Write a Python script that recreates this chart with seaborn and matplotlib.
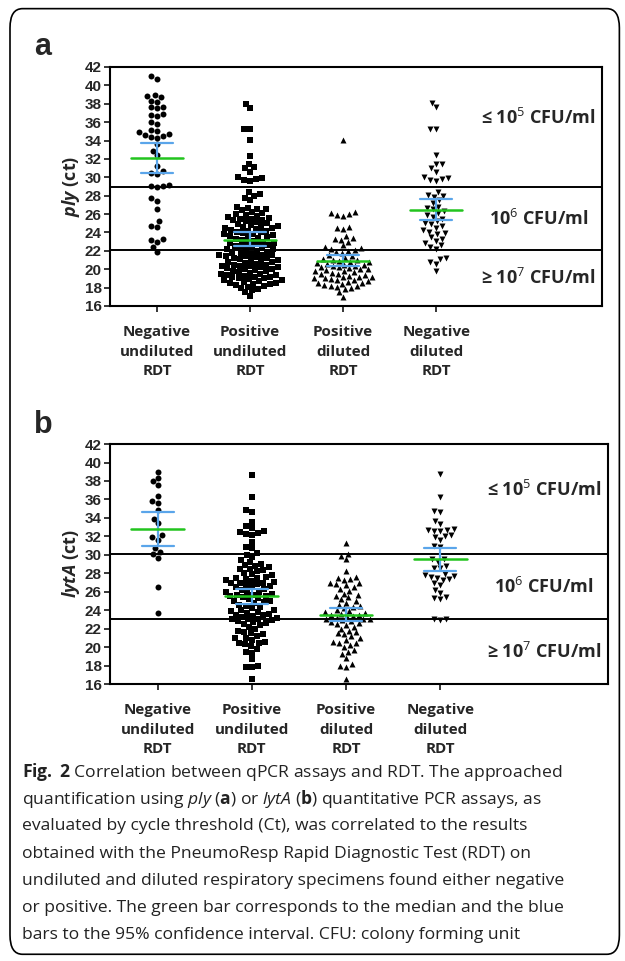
import numpy as np
import matplotlib.pyplot as plt
import pandas as pd
import seaborn as sns
from matplotlib.patches import FancyBboxPatch

cats = ['Negative\nundiluted\nRDT', 'Positive\nundiluted\nRDT', 'Positive\ndiluted\nRDT', 'Negative\ndiluted\nRDT']
markers = ['o', 's', '^', 'v']

# panel a (ply)
a_neg_undil = [41.0, 40.7, 39.0, 38.7, 38.8, 38.2, 38.3, 37.7, 37.5, 37.6, 36.9, 36.7, 36.8, 36.0, 35.8,
               35.1, 35.0, 34.9, 34.6, 34.5, 34.4, 34.3, 34.7, 33.6, 32.9, 32.4, 31.2, 30.7, 30.5, 30.4,
               29.2, 29.1, 29.0, 28.9, 27.7, 27.4, 26.6, 25.2, 24.7, 24.6, 23.3, 23.2, 23.0, 22.4, 21.9]
a_pos_undil = [38.0, 37.5, 35.3, 35.2, 34.1, 32.3, 31.5, 31.1, 31.0, 30.6, 30.0, 29.9, 29.8, 29.7, 29.6,
               28.4, 28.2, 28.0, 27.8, 27.5, 26.8, 26.7, 26.6, 26.5, 26.4, 26.2, 26.1, 26.0, 25.9, 25.8,
               25.7, 25.6, 25.5, 25.4, 25.3, 25.2, 25.1, 25.0, 24.9, 24.8, 24.7, 24.7, 24.6, 24.5, 24.4,
               24.3, 24.2, 24.1, 24.0, 23.9, 23.8, 23.7, 23.6, 23.5, 23.4, 23.3, 23.2, 23.1, 23.0, 22.9,
               22.8, 22.7, 22.6, 22.5, 22.4, 22.3, 22.2, 22.1, 22.0, 21.9, 21.8, 21.7, 21.6, 21.5, 21.4,
               21.3, 21.2, 21.1, 21.0, 20.9, 20.8, 20.7, 20.6, 20.5, 20.4, 20.3, 20.2, 20.1, 20.0, 19.9,
               19.8, 19.7, 19.6, 19.5, 19.4, 19.3, 19.2, 19.1, 19.0, 18.9, 18.8, 18.7, 18.6, 18.5, 18.4,
               18.3, 18.2, 18.1, 18.0, 17.9, 17.7, 17.5, 17.1, 21.5, 21.0, 20.5, 20.0, 19.5, 19.0, 18.5,
               22.5, 23.5, 24.5, 25.5, 21.2, 20.2, 19.2, 18.8, 19.8, 20.8, 21.8, 22.8, 23.8, 24.2, 22.2,
               21.4, 20.4, 19.4, 18.4]
a_pos_dil = [34.1, 26.2, 26.0, 26.1, 25.9, 25.8, 24.6, 24.4, 24.5, 23.6, 23.4, 23.3, 23.2, 23.0, 22.6,
             22.4, 22.3, 22.2, 22.1, 22.0, 21.9, 21.8, 21.5, 21.4, 21.2, 21.1, 21.0, 20.9, 20.8, 20.8,
             20.7, 20.6, 20.5, 20.4, 20.3, 20.2, 20.1, 20.0, 19.9, 19.8, 19.7, 19.6, 19.5, 19.4, 19.3,
             19.2, 19.1, 19.0, 18.9, 18.8, 18.7, 18.6, 18.5, 18.4, 18.3, 18.2, 18.1, 18.0, 17.8, 17.5,
             17.0, 19.0, 19.5, 18.5, 20.0, 20.5, 21.0, 18.8, 19.2, 19.8, 18.2, 20.2]
a_neg_dil = [38.1, 37.6, 35.3, 35.2, 32.4, 31.5, 31.4, 31.0, 30.6, 30.0, 29.9, 29.8, 29.7, 29.6, 28.4,
             28.1, 28.0, 27.9, 27.5, 27.2, 26.8, 26.7, 26.5, 26.3, 26.1, 25.9, 25.7, 25.5, 25.2, 25.0,
             24.9, 24.7, 24.5, 24.3, 24.1, 23.9, 23.8, 23.5, 23.3, 23.1, 22.8, 22.6, 22.4, 22.2, 21.2,
             21.1, 20.8, 20.6, 19.8]
a_med = [32.1, 23.2, 20.9, 26.4]
a_lo = [30.5, 22.5, 20.3, 25.3]
a_hi = [33.7, 24.0, 21.5, 27.6]
a_cut = [28.9, 22.1]

# panel b (lytA)
b_neg_undil = [39.0, 38.3, 38.0, 37.6, 36.4, 35.8, 35.6, 34.9, 33.9, 33.4, 32.1, 31.9, 31.6, 30.7, 30.3,
               30.1, 29.7, 26.5, 23.7]
b_pos_undil = [38.7, 36.3, 34.9, 34.6, 33.6, 33.1, 32.9, 32.6, 32.5, 32.4, 32.3, 32.2, 31.4, 30.9, 30.7,
               30.2, 30.0, 29.8, 29.4, 29.2, 28.9, 28.8, 28.7, 28.5, 28.4, 28.2, 28.0, 27.9, 27.8, 27.6,
               27.5, 27.4, 27.3, 27.2, 27.1, 27.0, 26.9, 26.8, 26.7, 26.6, 26.5, 26.3, 26.2, 26.0, 25.9,
               25.8, 25.7, 25.6, 25.5, 25.4, 25.3, 25.2, 25.0, 24.9, 24.8, 24.6, 24.4, 24.2, 24.0, 23.9,
               23.8, 23.7, 23.6, 23.5, 23.4, 23.3, 23.2, 23.1, 23.0, 22.9, 22.8, 22.7, 22.6, 22.4, 22.2,
               22.0, 21.8, 21.6, 21.5, 21.4, 21.2, 21.0, 20.8, 20.6, 20.4, 20.3, 20.1, 19.8, 19.5, 19.4,
               18.7, 18.0, 17.9, 17.8, 16.5, 27.5, 26.5, 25.5, 24.5, 23.5, 22.5, 27.0, 26.0, 25.0, 24.0,
               23.0, 28.5, 29.0, 21.0, 20.5]
b_pos_dil = [31.3, 30.1, 29.9, 29.5, 28.2, 27.6, 27.5, 27.4, 27.3, 27.0, 26.9, 26.8, 26.7, 26.5, 26.3,
             26.1, 25.8, 25.6, 25.4, 25.2, 25.0, 24.8, 24.6, 24.4, 24.2, 24.0, 23.9, 23.8, 23.7, 23.6,
             23.5, 23.4, 23.3, 23.2, 23.1, 23.0, 22.9, 22.8, 22.7, 22.6, 22.4, 22.2, 22.0, 21.8, 21.6,
             21.4, 21.2, 21.0, 20.8, 20.6, 20.4, 20.2, 20.0, 19.7, 19.5, 19.3, 18.8, 18.2, 18.0, 17.9,
             16.5, 23.5, 23.0, 22.5, 24.5, 25.5, 21.5, 20.5]
b_neg_dil = [38.8, 36.3, 34.8, 34.6, 33.7, 33.3, 32.8, 32.7, 32.7, 32.6, 32.6, 32.2, 32.0, 31.9, 31.6,
             31.0, 30.8, 29.5, 29.5, 29.2, 28.8, 28.6, 28.6, 27.9, 27.8, 27.7, 27.6, 27.5, 27.4, 27.3,
             26.9, 26.7, 26.2, 25.9, 25.4, 25.3, 25.2, 23.1, 23.0, 22.9]
b_med = [32.8, 25.5, 23.5, 29.5]
b_lo = [31.0, 24.7, 22.8, 28.2]
b_hi = [34.6, 26.3, 24.2, 30.7]
b_cut = [30.1, 23.0]

regions = ['≤ 10$^{5}$ CFU/ml', '10$^{6}$ CFU/ml', '≥ 10$^{7}$ CFU/ml']

sns.set_style('white')
plt.rcParams['font.family'] = ['Open Sans', 'DejaVu Sans']
plt.rcParams['mathtext.fontset'] = 'custom'
plt.rcParams['mathtext.rm'] = 'Open Sans'
plt.rcParams['mathtext.it'] = 'Open Sans:italic'
plt.rcParams['mathtext.bf'] = 'Open Sans:bold'
plt.rcParams['mathtext.bfit'] = 'Open Sans:bold:italic'

fig = plt.figure(figsize=(6.25, 9.61), dpi=100)
fig.patches.append(FancyBboxPatch((0.016, 0.007), 0.975, 0.984, boxstyle='round,pad=0,rounding_size=0.02',
                                  transform=fig.transFigure, fill=False, ec='black', lw=1.2))


def panel(rect, groups, med, lo, hi, cut, ylab, letter):
    ax = fig.add_axes(rect)
    for i, (vals, m) in enumerate(zip(groups, markers)):
        df = pd.DataFrame({'cat': [cats[i]] * len(vals), 'ct': vals})
        sns.swarmplot(data=df, x='cat', y='ct', order=cats, marker=m, color='black', size=4.3, ax=ax,
                      warn_thresh=1)
    for i in range(4):
        ax.plot([i - 0.17, i + 0.17], [lo[i], lo[i]], color='#5aa5ea', lw=1.6, zorder=5)
        ax.plot([i - 0.17, i + 0.17], [hi[i], hi[i]], color='#5aa5ea', lw=1.6, zorder=5)
        ax.plot([i, i], [lo[i], hi[i]], color='#5aa5ea', lw=1.6, zorder=5)
        ax.plot([i - 0.28, i + 0.28], [med[i], med[i]], color='#22c41e', lw=1.8, zorder=6)
    for c in cut:
        ax.axhline(c, color='black', lw=1.4)
    ax.set_xlim(-0.505, 4.78)
    ax.set_ylim(16, 42)
    ax.set_yticks(range(16, 43, 2))
    ax.set_xticks(range(4))
    ax.set_xticklabels(cats, fontsize=11, fontweight='bold', linespacing=1.5)
    for t in ax.get_yticklabels():
        t.set_fontfamily('Liberation Sans')
        t.set_fontweight('bold')
        t.set_fontsize(11)
    ax.tick_params(axis='both', direction='out', length=4, width=1.3, bottom=True, left=True, pad=2)
    ax.tick_params(axis='x', pad=10)
    ax.set_xlabel('')
    ax.set_ylabel(ylab, fontsize=13, fontweight='bold', labelpad=2)
    for s in ax.spines.values():
        s.set_linewidth(1.5)
        s.set_color('black')
    ymid = [(42 + cut[0]) / 2 + 1, (cut[0] + cut[1]) / 2, (cut[1] + 16) / 2]
    for txt, y in zip(regions, ymid):
        ax.text(4.1, y, txt, ha='center', va='center', fontsize=13, fontweight='bold')
    fig.text(0.055, rect[1] + rect[3] + 0.012, letter, fontsize=22, fontweight='bold', fontfamily='Liberation Sans')
    return ax


panel([0.176, 0.6816, 0.787, 0.2487], [a_neg_undil, a_pos_undil, a_pos_dil, a_neg_dil],
      a_med, a_lo, a_hi, a_cut, '$\\mathbfit{ply}$ (ct)', 'a')
panel([0.176, 0.2882, 0.797, 0.2497], [b_neg_undil, b_pos_undil, b_pos_dil, b_neg_dil],
      b_med, b_lo, b_hi, b_cut, '$\\mathbfit{lytA}$ (ct)', 'b')

caption = [
    '$\\bf{Fig.}$ $\\bf{2}$ Correlation between qPCR assays and RDT. The approached',
    'quantification using $\\it{ply}$ ($\\bf{a}$) or $\\it{lytA}$ ($\\bf{b}$) quantitative PCR assays, as',
    'evaluated by cycle threshold (Ct), was correlated to the results',
    'obtained with the PneumoResp Rapid Diagnostic Test (RDT) on',
    'undiluted and diluted respiratory specimens found either negative',
    'or positive. The green bar corresponds to the median and the blue',
    'bars to the 95% confidence interval. CFU: colony forming unit',
]
for k, line in enumerate(caption):
    fig.text(0.035, 1 - (772 + 27.2 * k) / 961, line, fontsize=12.6, va='center', ha='left', color='#222222')

fig.savefig('out.png', dpi=100)
